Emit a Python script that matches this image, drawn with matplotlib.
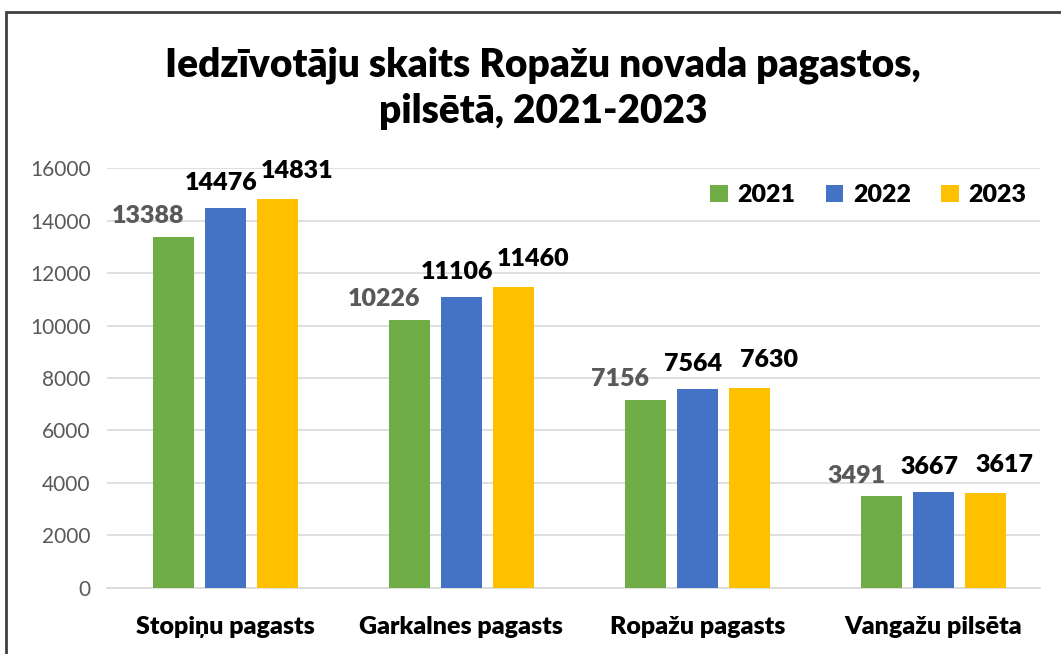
import numpy as np
from matplotlib import pyplot as plt
from matplotlib.patches import Rectangle

# Data
categories = ['Stopiņu pagasts', 'Garkalnes pagasts', 'Ropažu pagasts', 'Vangažu pilsēta']
years = ['2021', '2022', '2023']
v2021 = [13388, 10226, 7156, 3491]
v2022 = [14476, 11106, 7564, 3667]
v2023 = [14831, 11460, 7630, 3617]
yticks = [0, 2000, 4000, 6000, 8000, 10000, 12000, 14000, 16000]

plt.rcParams['font.family'] = ['Lato', 'DejaVu Sans']
BOLD = 'heavy'

colors = ['#70AD47', '#4472C4', '#FFC000']
label_colors = ['#595959', 'black', 'black']
label_dx = [-18, -3, 14]   # points, labels are nudged sideways in the original
label_dy = [15, 18, 20]
series = [v2021, v2022, v2023]

fig = plt.figure(figsize=(10.61, 6.54), dpi=100)
ax = fig.add_axes([0.101, 0.101, 0.879, 0.642])

x = np.arange(len(categories))
width = 0.174
step = 0.22
for i, (vals, yr) in enumerate(zip(series, years)):
    pos = x + (i - 1) * step
    bars = ax.bar(pos, vals, width, color=colors[i], label=yr, zorder=3)
    for b, v in zip(bars, vals):
        ax.annotate(str(v), (b.get_x() + b.get_width() / 2, v),
                    xytext=(label_dx[i], label_dy[i]), textcoords='offset points',
                    ha='center', va='center', fontsize=18, fontweight=BOLD,
                    color=label_colors[i])

ax.set_xlim(-0.5, 3.45)
ax.set_ylim(0, 16000)
ax.set_yticks(yticks)
ax.set_yticklabels([str(t) for t in yticks], fontsize=15, color='#595959')
ax.set_xticks(x)
ax.set_xticklabels(categories, fontsize=18, fontweight=BOLD)
ax.tick_params(length=0)
ax.tick_params(axis='x', pad=20)
ax.tick_params(axis='y', pad=12)
ax.grid(axis='y', color='#D9D9D9', linewidth=1.2, zorder=0)
for s in ['top', 'right', 'left']:
    ax.spines[s].set_visible(False)
ax.spines['bottom'].set_color('#D9D9D9')
ax.spines['bottom'].set_linewidth(1.2)

ax.legend(loc='upper right', bbox_to_anchor=(1.01, 1.015), ncol=3, frameon=False,
          prop={'size': 18, 'weight': BOLD}, handlelength=0.7, handleheight=0.7,
          handletextpad=0.4, columnspacing=1.2)

fig.text(0.512, 0.865, 'Iedzīvotāju skaits Ropažu novada pagastos,\npilsētā, 2021-2023',
         ha='center', va='center', fontsize=28, fontweight=BOLD, linespacing=1.28)

fig.patches.append(Rectangle((6 / 1061, -0.05), 1.1, 1 - 12 / 654 + 0.05,
                             transform=fig.transFigure, fill=False,
                             edgecolor='#404040', linewidth=2))

plt.savefig('out.png', dpi=100)
